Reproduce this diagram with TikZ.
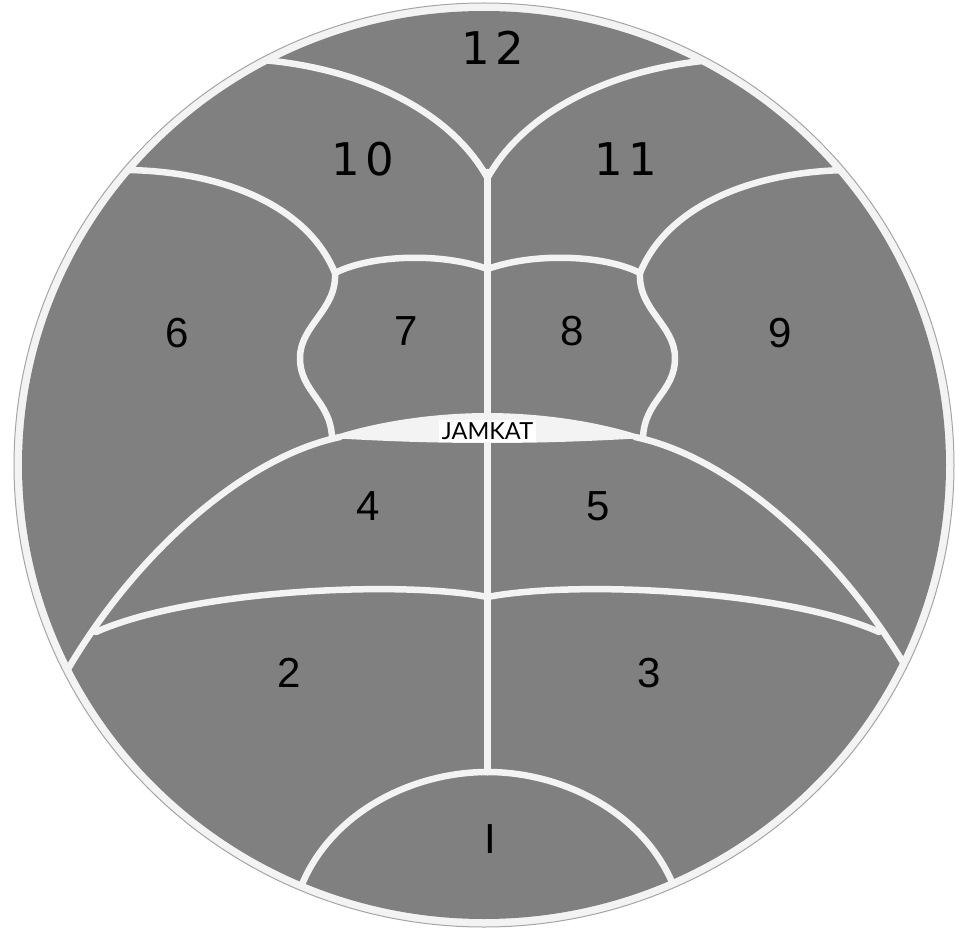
\documentclass[tikz,border=0pt]{standalone}
\usepackage{fontspec}
\usepackage{tikz}
\newfontfamily\numsans{Liberation Sans}
\newfontfamily\topsans{DejaVu Sans}
\newfontfamily\tagsans{Lato}
\definecolor{regiongray}{RGB}{128,128,128}
\definecolor{seamwhite}{RGB}{243,243,243}
\definecolor{rimgray}{RGB}{165,165,165}

\begin{document}
\begin{tikzpicture}[
  x=1pt, y=-1pt,
  seam/.style={draw=seamwhite, line width=6.5pt, line cap=round, line join=round},
  num/.style={font=\numsans\fontsize{42}{42}\selectfont, inner sep=0pt},
  topnum/.style={font=\topsans\fontsize{45}{45}\selectfont, inner sep=0pt},
  tag/.style={font=\tagsans\fontsize{23.5}{23.5}\selectfont, fill=white,
              inner xsep=3pt, inner ysep=2pt}
]
\useasboundingbox (0,0) rectangle (959,928);
% rim and field
\fill[seamwhite] (484,465) ellipse [x radius=470pt, y radius=462pt];
\fill[regiongray] (484,465) ellipse [x radius=462pt, y radius=454pt];
\begin{scope}
  \clip (484,465) ellipse [x radius=470pt, y radius=462pt];
  \draw[seam] (487.5,172) -- (487.5,772);
  % left half, then its mirror image
  \foreach \s/\o in {1/0, -1/975}{
  \begin{scope}[xshift=\o pt, xscale=\s]
    \draw[seam] (262,60) .. controls (360,68) and (450,110) .. (487.5,178);
    \draw[seam] (112,170) .. controls (210,168) and (305,200) .. (335,273);
    \draw[seam] (335,273) .. controls (370,255) and (440,252) .. (487.5,269);
    \draw[seam] (335,273) .. controls (337,310) and (300,325) .. (300,358)
      .. controls (300,392) and (330,400) .. (332,437);
    \draw[seam] (60,683) -- (64,676) .. controls (130,560) and (240,458)
      .. (340,437);
    \draw[seam] (96,632) .. controls (190,590) and (400,580) .. (487.5,597);
    \draw[seam] (294,902) -- (298,895) .. controls (325,815) and (410,772)
      .. (487.5,772);
    \fill[seamwhite] (330,437) .. controls (380,420) and (440,413) .. (487.5,413)
      -- (487.5,443) .. controls (430,443) and (380,441) .. (330,438) -- cycle;
  \end{scope}}
\end{scope}
\draw[rimgray, line width=1pt] (484,465) ellipse [x radius=470pt, y radius=462pt];
% region numbers
\node[topnum] (n12) at (493,48) {1\kern5pt 2};
\node[topnum] (n10) at (363,159) {1\kern5pt 0};
\node[topnum] (n11) at (626,159) {1\kern5pt 1};
\foreach \n/\x/\y in {6/177/333, 7/406/331, 8/572/331, 9/780/333,
  4/368/506, 5/598/506, 2/289/673, 3/649/673}
  \node[num] (n\n) at (\x,\y) {\n};
\node[num] (n1) at (490,839) {I};
\node[tag] (jamkat) at (487.5,431) {JAMKAT};
\end{tikzpicture}
\end{document}
